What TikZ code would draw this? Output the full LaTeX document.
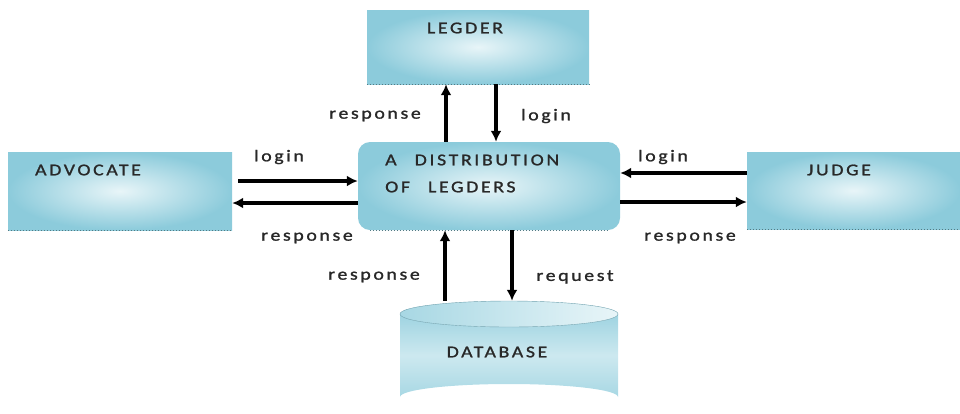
\documentclass[tikz,border=0pt]{standalone}
\usepackage{fontspec}
\setmainfont{Carlito}
\newfontfamily\lblfont[FakeStretch=1.2,LetterSpace=16,FakeBold=1.2]{Carlito}
\usetikzlibrary{arrows.meta}
\definecolor{boxdark}{RGB}{140,203,219}
\definecolor{boxlight}{RGB}{232,245,248}
\definecolor{txt}{RGB}{40,40,40}
\begin{document}
\begin{tikzpicture}[x=1pt,y=-1pt,
  box/.style={rectangle,draw=none,shading=radial,inner color=boxlight,outer color=boxdark,inner sep=0pt},
  edge/.style={dotted,line width=1pt,color=boxdark!60!black},
  lbl/.style={font=\lblfont\fontsize{16.5}{18}\selectfont,text=txt,inner sep=0pt},
  flow/.style={line width=3.2pt,-{Latex[length=11pt,width=11pt]}}]
\useasboundingbox (0,0) rectangle (960,413);
\node[box,minimum width=222pt,minimum height=74pt] (leg) at (478,47) {};
\node[box,minimum width=224pt,minimum height=78pt] (adv) at (120,191) {};
\node[box,minimum width=262pt,minimum height=88pt,rounded corners=12pt] (cen) at (489,186) {};
\node[box,minimum width=213pt,minimum height=77pt] (jud) at (853.5,190.5) {};
% database cylinder drawn directly
\shade[top color=boxdark!80!boxlight,bottom color=boxdark!70!boxlight,middle color=boxlight!70!boxdark]
  (400,314) -- (400,397) arc[start angle=180,end angle=360,x radius=109,y radius=13] -- (618,314)
  arc[start angle=0,end angle=180,x radius=109,y radius=13] -- cycle;
\shade[left color=boxdark!70!boxlight,right color=boxlight,draw=boxdark!80!black,line width=0.4pt]
  (509,314) ellipse[x radius=109,y radius=13];
\node[minimum width=218pt,minimum height=96pt,inner sep=0pt] (db) at (509,349) {};
\draw[edge] (leg.south west) -- (leg.south east);
\draw[edge] (adv.south west) -- (adv.south east);
\draw[edge] (jud.south west) -- (jud.south east);
\draw[edge] ([xshift=12pt]cen.south west) -- ([xshift=-12pt]cen.south east);
\node[lbl] (legt) at (465,28) {LEGDER};
\node[lbl] (advt) at (88,170) {ADVOCATE};
\node[lbl] (judt) at (839,170) {JUDGE};
\node[lbl] (dbt) at (497,352) {DATABASE};
\node[lbl,anchor=west] (cen1) at (385,160) {A\hspace{18pt}DISTRIBUTION};
\node[lbl,anchor=west] (cen2) at (385,187) {OF\hspace{18pt}LEGDERS};
% arrows
\draw[flow] ([xshift=-43pt]cen.north) -- ([xshift=-43pt]cen.north |- leg.south);
\draw[flow] ([xshift=18pt]leg.south) -- ([xshift=18pt]leg.south |- cen.north);
\draw[flow,shorten <=6pt] ([yshift=10pt]adv.east) -- ([yshift=10pt]adv.east -| cen.west);
\draw[flow] ([yshift=-12pt]adv.east -| cen.west) -- ([yshift=-12pt]adv.east);
\draw[flow] ([yshift=17.5pt]jud.west) -- ([yshift=17.5pt]jud.west -| cen.east);
\draw[flow] ([yshift=-11.5pt]jud.west -| cen.east) -- ([yshift=-11.5pt]jud.west);
\draw[flow] ([xshift=-64pt]db.north) -- ([xshift=-64pt]db.north |- cen.south);
\draw[flow] ([xshift=23pt]cen.south) -- ([xshift=23pt]cen.south |- db.north);
% labels
\node[lbl] (l1) at (375,116) {response};
\node[lbl] (l2) at (546,116) {login};
\node[lbl] (l3) at (279,157) {login};
\node[lbl] (l4) at (307,238) {response};
\node[lbl] (l5) at (663,157) {login};
\node[lbl] (l6) at (690,238) {response};
\node[lbl] (l7) at (374,277) {response};
\node[lbl] (l8) at (575,277) {request};
\end{tikzpicture}
\end{document}
